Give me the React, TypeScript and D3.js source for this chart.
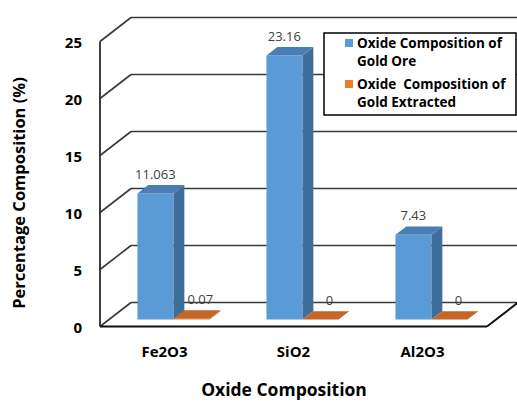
import React from 'react';
import * as d3 from 'd3';

const categories = ['Fe2O3', 'SiO2', 'Al2O3'];
const oreValues = [11.063, 23.16, 7.43];
const extractedValues = [0.07, 0, 0];
const valueLabels = [['11.063', '23.16', '7.43'], ['0.07', '0', '0']];
const seriesLegend = [
  ['Oxide Composition of', 'Gold Ore'],
  ['Oxide  Composition of', 'Gold Extracted'],
];
const yTicks = [0, 5, 10, 15, 20, 25];

const W = 517;
const H = 401;
const DX = 31; // depth offset of back wall
const DY = -24;
const Z0 = 0.29; // bar front depth
const Z1 = 0.64; // bar back depth
const FONT = '"Open Sans", "DejaVu Sans", sans-serif';

const palette = [
  { front: '#5B9BD5', side: '#3F6E9A', top: '#4A7FB5' },
  { front: '#ED7D31', side: '#B35E24', top: '#C4652A' },
];

export default function App() {
  const x = d3.scaleBand<string>().domain(categories).range([100, 487]).padding(0);
  const inner = d3.scaleBand<number>().domain([0, 1]).range([0, x.bandwidth()]).paddingInner(0).paddingOuter(0.79);
  const y = d3.scaleLinear().domain([0, 25]).range([326.5, 41.5]);

  const p = (px: number, v: number, z: number): [number, number] => [px + z * DX, y(v) + z * DY];
  const poly = (pts: [number, number][]) => pts.map(q => q.join(',')).join(' ');

  const x0 = x.range()[0];
  const x1 = x.range()[1];
  const series = [oreValues, extractedValues];

  const bars: JSX.Element[] = [];
  const labels: JSX.Element[] = [];
  categories.forEach((c, ci) => {
    series.forEach((vals, si) => {
      const v = vals[ci];
      const xa = (x(c) as number) + (inner(si) as number);
      const xb = xa + inner.bandwidth();
      const col = palette[si];
      bars.push(
        <g key={`b${ci}-${si}`}>
          <polygon points={poly([p(xa, 0, Z0), p(xb, 0, Z0), p(xb, v, Z0), p(xa, v, Z0)])} fill={col.front} />
          <polygon points={poly([p(xb, 0, Z0), p(xb, 0, Z1), p(xb, v, Z1), p(xb, v, Z0)])} fill={col.side} />
          <polygon points={poly([p(xa, v, Z0), p(xb, v, Z0), p(xb, v, Z1), p(xa, v, Z1)])} fill={col.top} />
        </g>
      );
      const [lx, ly] = p((xa + xb) / 2 + (si === 1 ? 9 : 0), v, Z1);
      labels.push(
        <text key={`l${ci}-${si}`} x={lx - 11} y={ly - 6.5} textAnchor="middle"
          fontSize={13} fill="#404040" fontFamily={FONT}>
          {valueLabels[si][ci]}
        </text>
      );
    });
  });

  return (
    <svg width={W} height={H} style={{ position: 'absolute', left: 0, top: 0, background: '#fff' }}>
      <rect width={W} height={H} fill="#fff" />
      {/* back wall gridlines and left wall diagonals */}
      {yTicks.map(t => {
        const [bx0, by] = p(x0, t, 1);
        const [bx1] = p(x1, t, 1);
        const [fx, fy] = p(x0, t, 0);
        return (
          <g key={`g${t}`} stroke="#3a3a3a" strokeWidth={1.6} fill="none">
            <line x1={bx0} y1={by} x2={bx1} y2={by} />
            <line x1={fx} y1={fy} x2={bx0} y2={by} />
          </g>
        );
      })}
      {/* front vertical axis line */}
      <line x1={x0} y1={y(0)} x2={x0} y2={y(25)} stroke="#2a2a2a" strokeWidth={1.8} />
      {/* floor */}
      <line x1={x0} y1={y(0)} x2={x1} y2={y(0)} stroke="#111" strokeWidth={2} />
      <line x1={x1} y1={y(0)} x2={p(x1, 0, 1)[0]} y2={p(x1, 0, 1)[1]} stroke="#111" strokeWidth={2} />

      {bars}
      {labels}

      {/* y tick labels */}
      {yTicks.map(t => (
        <text key={`t${t}`} x={82} y={y(t) + 1.5} dy="0.35em" textAnchor="end" fontSize={15}
          fontWeight="bold" fill="#000" fontFamily={FONT}>
          {t}
        </text>
      ))}

      {/* category labels */}
      {categories.map(c => (
        <text key={`c${c}`} x={(x(c) as number) + x.bandwidth() / 2} y={357} textAnchor="middle" fontSize={15}
          fontWeight="bold" fill="#000" fontFamily={FONT}>
          {c}
        </text>
      ))}

      <text x={284} y={396} textAnchor="middle" fontSize={17.5} fontWeight="bold" fill="#000" fontFamily={FONT}>
        Oxide Composition
      </text>
      <text transform="translate(25,193) rotate(-90)" textAnchor="middle" fontSize={16.5} fontWeight="bold"
        fill="#000" fontFamily={FONT}>
        Percentage Composition (%)
      </text>

      {/* legend */}
      <g>
        <rect x={324} y={33} width={192} height={82} fill="#fff" stroke="#000" strokeWidth={1.5} />
        {seriesLegend.map((lines, i) => (
          <g key={`lg${i}`} transform={`translate(0,${i * 41})`}>
            <rect x={345} y={39} width={8} height={8} fill={palette[i].front} />
            {lines.map((ln, j) => (
              <text key={j} x={357} y={48 + j * 18} fontSize={13.5} fontWeight="bold" fill="#000"
                fontFamily={FONT} style={{ whiteSpace: 'pre' }}>
                {ln}
              </text>
            ))}
          </g>
        ))}
      </g>
    </svg>
  );
}
